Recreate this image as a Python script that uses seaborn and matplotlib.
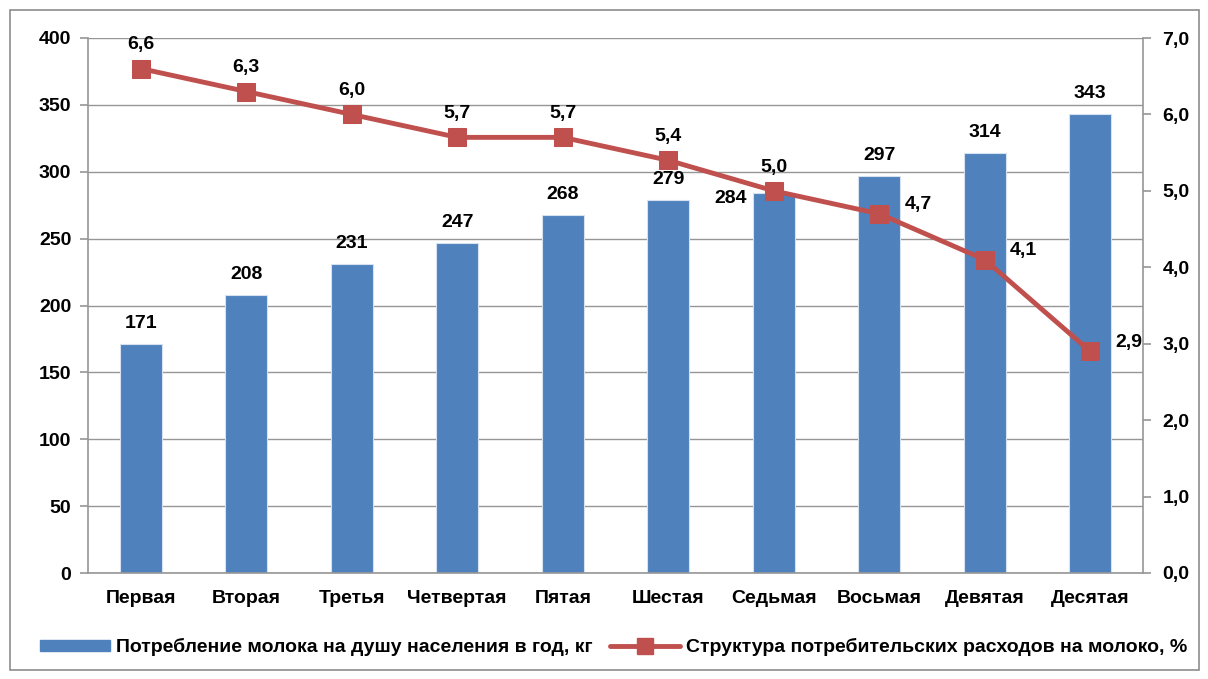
import numpy as np
import matplotlib
matplotlib.use("Agg")
import matplotlib.pyplot as plt
import seaborn as sns
from matplotlib.patches import Rectangle
from matplotlib.lines import Line2D

categories = ["Первая", "Вторая", "Третья", "Четвертая", "Пятая",
              "Шестая", "Седьмая", "Восьмая", "Девятая", "Десятая"]
consumption = [171, 208, 231, 247, 268, 279, 284, 297, 314, 343]
share = [6.6, 6.3, 6.0, 5.7, 5.7, 5.4, 5.0, 4.7, 4.1, 2.9]
bar_label = "Потребление молока на душу населения в год, кг"
line_label = "Структура потребительских расходов на молоко, %"

sns.set_theme(style="white")
plt.rcParams["font.family"] = ["Liberation Sans", "DejaVu Sans"]
plt.rcParams["font.weight"] = "bold"
plt.rcParams["text.color"] = "black"
plt.rcParams["xtick.color"] = "black"
plt.rcParams["ytick.color"] = "black"

BLUE = "#4F81BD"
RED = "#C0504D"
GRID = "#969696"
FS = 14

fig = plt.figure(figsize=(12.08, 6.79), dpi=100)
fig.patches.append(Rectangle((10/1208, 1-670/679), 1189/1208, 660/679,
                             transform=fig.transFigure, fill=False,
                             edgecolor="#8c8c8c", lw=1.2))
ax = fig.add_axes([88/1208, 1-573/679, (1143-88)/1208, (573-38)/679])

sns.barplot(x=categories, y=consumption, color=BLUE, width=0.4,
            saturation=1, ax=ax, zorder=2, edgecolor="#d6e2f0", linewidth=0.8)
ax.set_xlim(-0.5, 9.5)
ax.set_ylim(0, 400)
ax.set_yticks(np.arange(0, 401, 50))
ax.yaxis.grid(True, color=GRID, lw=1, zorder=0)
ax.set_axisbelow(True)
ax.set_xlabel("")
ax.set_ylabel("")
for s in ["top", "right"]:
    ax.spines[s].set_visible(False)
for s in ["left", "bottom"]:
    ax.spines[s].set_color(GRID)
    ax.spines[s].set_linewidth(1.2)
ax.tick_params(axis="x", length=0, labelsize=FS, pad=12, labelcolor="black")
ax.set_xticks(np.arange(-0.5, 10, 1), minor=True)
ax.tick_params(axis="x", which="minor", length=6, color=GRID, width=1.2, direction="out")
ax.tick_params(axis="y", length=6, color=GRID, width=1.2, direction="out",
               labelsize=FS, pad=6, labelcolor="black")
for lab in ax.get_xticklabels() + ax.get_yticklabels():
    lab.set_fontweight("bold")

for i, v in enumerate(consumption):
    if i == 6:
        ax.text(i - 0.41, v - 4, f"{v}", ha="center", va="center",
                fontsize=FS, fontweight="bold", color="black")
    else:
        ax.text(i, v + 9, f"{v}", ha="center", va="bottom",
                fontsize=FS, fontweight="bold", color="black")

ax2 = ax.twinx()
sns.lineplot(x=np.arange(len(share)), y=share, color=RED, lw=3.5,
             marker="s", markersize=13, markeredgecolor=RED,
             markerfacecolor=RED, ax=ax2, zorder=5)
ax2.set_ylim(0, 7)
ax2.set_yticks(np.arange(0, 7.01, 1))
ax2.set_yticklabels([f"{t:.1f}".replace(".", ",") for t in np.arange(0, 7.01, 1)])
ax2.set_xlim(-0.5, 9.5)
for s in ["top", "left", "bottom"]:
    ax2.spines[s].set_visible(False)
ax2.spines["right"].set_color(GRID)
ax2.spines["right"].set_linewidth(1.2)
ax2.tick_params(axis="y", length=6, color=GRID, width=1.2, direction="out",
                labelsize=FS, pad=8, labelcolor="black")
for lab in ax2.get_yticklabels():
    lab.set_fontweight("bold")
ax2.set_ylabel("")

for i, v in enumerate(share):
    txt = f"{v:.1f}".replace(".", ",")
    if i >= 7:
        ax2.text(i + 0.24, v + 0.12, txt, ha="left", va="center",
                 fontsize=FS, fontweight="bold", color="black")
    else:
        ax2.text(i, v + 0.2, txt, ha="center", va="bottom",
                 fontsize=FS, fontweight="bold", color="black")

handles = [Rectangle((0, 0), 1, 1, color=BLUE),
           Line2D([0], [0], color=RED, lw=3.5, marker="s", markersize=12)]
leg = fig.legend(handles, [bar_label, line_label], loc="center",
                 bbox_to_anchor=(0.508, 1-647/679), ncol=2, frameon=False,
                 handlelength=3.6, handleheight=0.5, columnspacing=0.9,
                 handletextpad=0.3, prop={"weight": "bold", "size": FS})

fig.savefig("out.png", dpi=100)
